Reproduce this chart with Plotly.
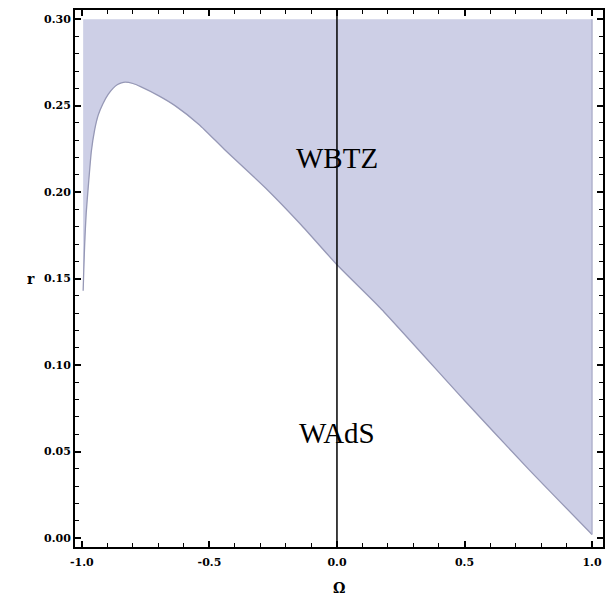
import plotly.graph_objects as go

# Boundary curve r(Ω) separating WBTZ (above) from WAdS (below)
omega = [-0.995, -0.992, -0.988, -0.983, -0.975, -0.963, -0.95, -0.936, -0.918, -0.897,
         -0.878, -0.86, -0.845, -0.83, -0.80, -0.77, -0.70, -0.635, -0.54, -0.44,
         -0.28, -0.14, 0.0, 0.17, 0.5, 0.75, 1.0]
r_curve = [0.143, 0.158, 0.174, 0.188, 0.203, 0.2235, 0.236, 0.2445, 0.251, 0.2565,
           0.2600, 0.2622, 0.2632, 0.2636, 0.2628, 0.2610, 0.2558, 0.2500, 0.2390, 0.2245,
           0.2024, 0.1810, 0.158, 0.133, 0.0795, 0.040, 0.002]
r_top = 0.30

x_ticks = [-1.0, -0.5, 0.0, 0.5, 1.0]
x_labels = ["-1.0", "-0.5", "0.0", "0.5", "1.0"]
y_ticks = [0.00, 0.05, 0.10, 0.15, 0.20, 0.25, 0.30]
y_labels = ["0.00", "0.05", "0.10", "0.15", "0.20", "0.25", "0.30"]

region_labels = ["WBTZ", "WAdS"]
region_x = [0.0, 0.0]
region_y = [0.2195, 0.061]

fig = go.Figure()

# shaded region polygon
poly_x = omega + [omega[-1], omega[0]]
poly_y = r_curve + [r_top, r_top]
fig.add_trace(go.Scatter(x=poly_x, y=poly_y, fill="toself", mode="lines",
                         fillcolor="rgb(205,207,230)", line=dict(width=0),
                         hoverinfo="skip", showlegend=False))
# boundary curve
fig.add_trace(go.Scatter(x=omega, y=r_curve, mode="lines",
                         line=dict(color="rgb(150,152,182)", width=1.3, shape="spline",
                                   smoothing=0.5),
                         hoverinfo="skip", showlegend=False))
# right edge of region
fig.add_trace(go.Scatter(x=[omega[-1], omega[-1]], y=[r_curve[-1], r_top], mode="lines",
                         line=dict(color="rgb(170,172,200)", width=1.3),
                         hoverinfo="skip", showlegend=False))
# vertical line at Ω = 0
fig.add_trace(go.Scatter(x=[0, 0], y=[-0.01, 0.31], mode="lines",
                         line=dict(color="black", width=1.5),
                         hoverinfo="skip", showlegend=False))

for t, xx, yy in zip(region_labels, region_x, region_y):
    fig.add_annotation(x=xx, y=yy, text=t, showarrow=False,
                       font=dict(family="Liberation Serif", size=29, color="black"))

label_font = dict(family="DejaVu Serif", size=14, color="black", weight="bold")
fig.add_annotation(x=0.5, y=0, xref="paper", yref="paper", text="Ω", showarrow=False,
                   yanchor="middle", yshift=-41, font=label_font)
fig.add_annotation(x=0, y=(0.15 + 0.0052) / 0.3105, xref="paper", yref="paper", text="r",
                   showarrow=False, xanchor="center", xshift=-44, font=label_font)

axis_common = dict(showline=True, linecolor="black", linewidth=2, mirror="allticks",
                   ticks="inside", ticklen=6, tickwidth=1.5, tickcolor="black",
                   showgrid=False, zeroline=False,
                   tickfont=dict(family="DejaVu Serif", size=11, color="black",
                                 weight="bold"))

fig.update_xaxes(range=[-1.027, 1.043], tickvals=x_ticks, ticktext=x_labels,
                 ticklabelstandoff=4,
                 minor=dict(dtick=0.1, tick0=0, ticks="inside", ticklen=4,
                            tickwidth=1.2, tickcolor="black", showgrid=False),
                 **axis_common)
fig.update_yaxes(range=[-0.0052, 0.3053], tickvals=y_ticks, ticktext=y_labels,
                 minor=dict(dtick=0.01, tick0=0, ticks="inside", ticklen=4,
                            tickwidth=1.2, tickcolor="black", showgrid=False),
                 **axis_common)

# page body has an 8px margin, so the figure is sized to fit the remaining space
fig.update_layout(width=605, height=589, margin=dict(l=67, r=10, t=0, b=50),
                  plot_bgcolor="white", paper_bgcolor="white")

fig.write_html("out.html")
